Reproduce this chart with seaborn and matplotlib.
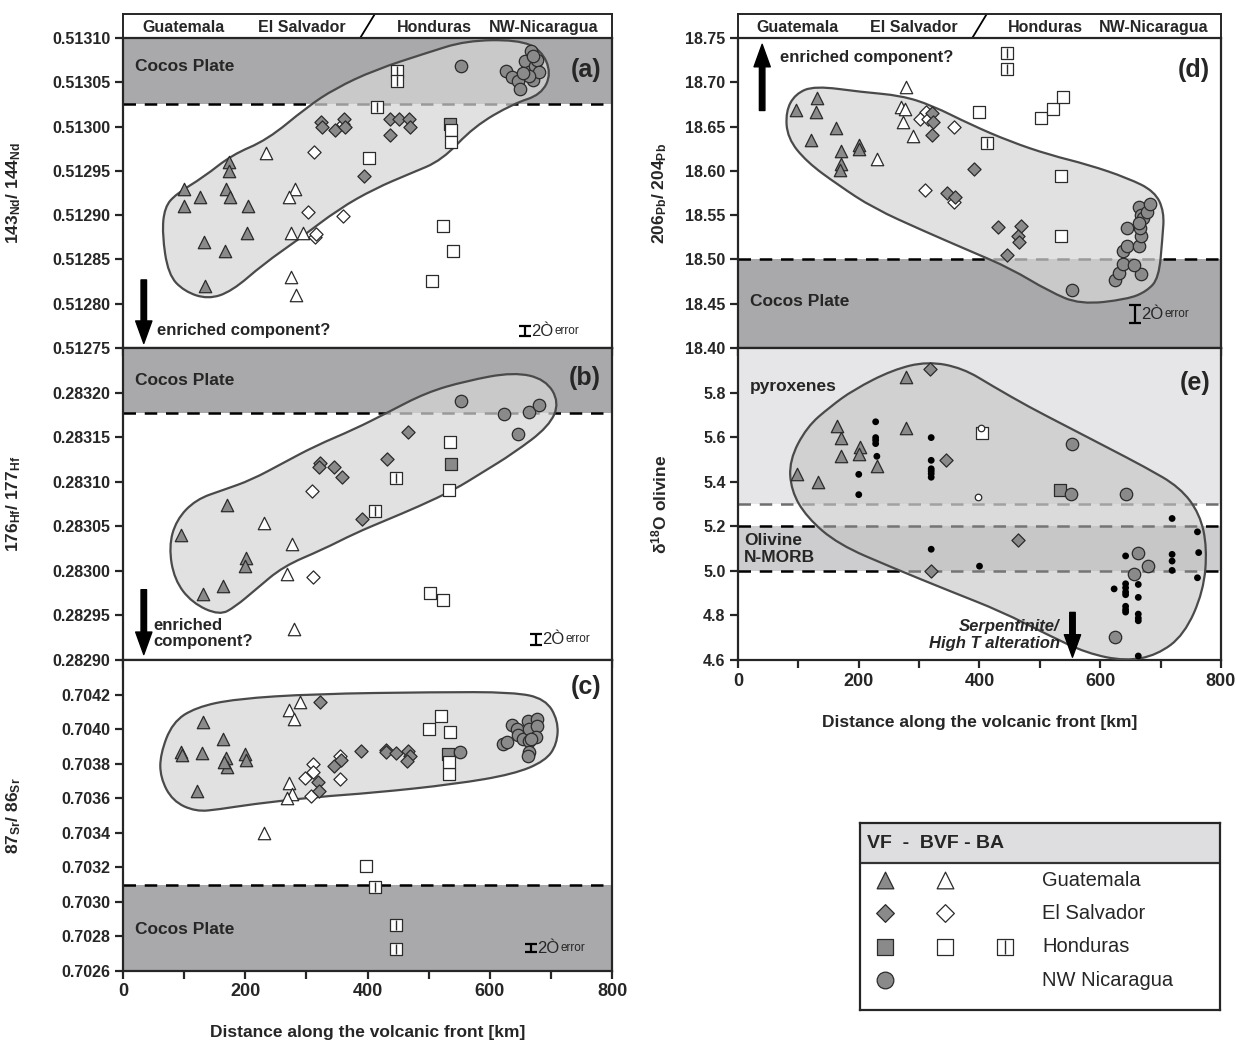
"""Isotope ratios along the Central American volcanic front (panels a-e) with shared legend."""
import numpy as np
import pandas as pd
import matplotlib
matplotlib.use("Agg")
import matplotlib.pyplot as plt
import seaborn as sns
from matplotlib.path import Path
from matplotlib.patches import PathPatch
from matplotlib.ticker import MultipleLocator, FixedLocator, FormatStrFormatter

sns.set_style("ticks")
plt.rcParams["font.family"] = ["Liberation Sans", "DejaVu Sans"]
plt.rcParams["font.weight"] = "bold"
plt.rcParams["mathtext.fontset"] = "custom"
plt.rcParams["mathtext.rm"] = "Liberation Sans:bold"
plt.rcParams["mathtext.bf"] = "Liberation Sans:bold"
plt.rcParams["mathtext.default"] = "bf"

# ---------------- data ----------------
regions = ["Guatemala", "El Salvador", "Honduras", "NW-Nicaragua"]
region_x = [99, 292, 509, 688]
region_slash_x = [388, 412]

# (a) 143Nd/144Nd
nd_x = [100, 100, 126, 132, 134, 167, 173, 173, 168, 175, 204, 203,
        234, 282, 272, 275, 294, 275, 283,
        312, 303, 314, 316, 360, 360,
        324, 326, 347, 361, 363, 395, 436, 436, 451, 468, 470,
        535,
        402, 536, 536, 524, 540, 505,
        449, 449, 415,
        553, 626, 636, 646, 649, 658, 665, 668, 671, 674, 677, 681, 665, 655, 671]
nd_y = [0.51293, 0.51291, 0.51292, 0.51287, 0.51282, 0.51286, 0.51296, 0.51295, 0.51293, 0.51292, 0.51291, 0.51288,
        0.51297, 0.51293, 0.51292, 0.51288, 0.51288, 0.51283, 0.51281,
        0.512971, 0.512904, 0.512875, 0.512879, 0.512899, 0.513003,
        0.513005, 0.51300, 0.512996, 0.513009, 0.512999, 0.512944, 0.513009, 0.51299, 0.513008, 0.513009, 0.512999,
        0.513003,
        0.512965, 0.512996, 0.512983, 0.512888, 0.512859, 0.512826,
        0.513063, 0.513051, 0.513022,
        0.513068, 0.513063, 0.513056, 0.513051, 0.513042, 0.513074, 0.513062, 0.513085, 0.513053, 0.513068,
        0.513075, 0.513062, 0.513057, 0.51306, 0.51308]
nd_grp = ["GV"] * 12 + ["GB"] * 7 + ["SB"] * 6 + ["SV"] * 11 + ["HV"] + ["HB"] * 6 + ["HA"] * 3 + ["NV"] * 15
nd_hull_x = [139, 100, 74, 64, 68, 87, 132, 178, 236, 301, 347, 412, 496, 561, 645, 684, 701, 684,
             639, 574, 522, 470, 412, 353, 288, 230, 178]
nd_hull_y = [0.512805, 0.512814, 0.512833, 0.512879, 0.512909, 0.512924, 0.512943, 0.512968, 0.512985,
             0.513022, 0.513043, 0.513064, 0.513083, 0.513097, 0.513098, 0.513087, 0.513060, 0.513036,
             0.513026, 0.513000, 0.512962, 0.512947, 0.512930, 0.512907, 0.512873, 0.512845, 0.512814]
nd_cocos = (0.513025, 0.51310)

# (b) 176Hf/177Hf
hf_x = [95, 131, 164, 170, 201, 199,
        230, 277, 268, 279,
        309, 311,
        322, 321, 345, 358, 391, 432, 466,
        447, 413,
        535, 534, 503, 523,
        537,
        553, 624, 647, 665, 680]
hf_y = [0.28304, 0.282974, 0.282983, 0.283074, 0.283014, 0.283006,
        0.283054, 0.28303, 0.282997, 0.282935,
        0.28309, 0.282993,
        0.283121, 0.283116, 0.283116, 0.283105, 0.283058, 0.283126, 0.283156,
        0.283104, 0.283067,
        0.283144, 0.283091, 0.282975, 0.282967,
        0.28312,
        0.283191, 0.283176, 0.283154, 0.283178, 0.283186]
hf_grp = ["GV"] * 6 + ["GB"] * 4 + ["SB"] * 2 + ["SV"] * 7 + ["HA"] * 2 + ["HB"] * 4 + ["HV"] + ["NV"] * 5
hf_hull_x = [158, 113, 84, 75, 87, 119, 165, 210, 262, 314, 379, 431, 496, 561, 639, 691, 714, 697,
             639, 587, 542, 483, 431, 379, 327, 262, 217, 184]
hf_hull_y = [0.282950, 0.282964, 0.282990, 0.283027, 0.283057, 0.283080, 0.283091, 0.283102, 0.283121,
             0.283140, 0.283159, 0.283177, 0.283200, 0.283213, 0.283223, 0.283215, 0.283189, 0.283162,
             0.283132, 0.283110, 0.283091, 0.283072, 0.283057, 0.283042, 0.283024, 0.283005, 0.282979,
             0.282960]
hf_cocos = (0.283177, 0.28325)

# (c) 87Sr/86Sr
sr_x = [95, 96, 131, 129, 121, 163, 168, 170, 165, 199, 202,
        272, 279, 290, 230, 272, 277, 268,
        311, 311, 297, 308, 355, 355,
        322, 319, 321, 345, 357, 390, 430, 431, 446, 466, 470, 464,
        532,
        501, 521, 535, 533, 534, 397,
        412, 446, 446,
        551, 621, 629, 636, 644, 646, 654, 663, 664, 665, 664, 663, 678, 678, 675, 668]
sr_y = [0.70387, 0.70385, 0.70404, 0.70386, 0.70364, 0.70394, 0.70383, 0.70378, 0.70381, 0.703855, 0.70382,
        0.70411, 0.70406, 0.704155, 0.703396, 0.70369, 0.703627, 0.7036,
        0.703797, 0.703754, 0.703716, 0.703613, 0.703846, 0.70371,
        0.704155, 0.703691, 0.703642, 0.703787, 0.70382, 0.703871, 0.703878, 0.703869, 0.703863, 0.703875,
        0.703846, 0.703813,
        0.703855,
        0.704002, 0.704078, 0.703981, 0.703743, 0.703807, 0.703206,
        0.703086, 0.702867, 0.702726,
        0.703869, 0.703913, 0.703923, 0.704026, 0.704, 0.703968, 0.703942, 0.704049, 0.704, 0.703929,
        0.703865, 0.703846, 0.704059, 0.70402, 0.703956, 0.703942]
sr_grp = ["GV"] * 11 + ["GB"] * 7 + ["SB"] * 6 + ["SV"] * 12 + ["HV"] + ["HB"] * 6 + ["HA"] * 3 + ["NV"] * 16
sr_hull_x = [119, 81, 61, 61, 81, 119, 184, 314, 509, 639, 691, 712, 710, 691, 639, 542, 412, 314, 210, 158]
sr_hull_y = [0.703522, 0.703584, 0.703720, 0.703855, 0.704039, 0.704126, 0.704175, 0.704204, 0.704214,
             0.704214, 0.704175, 0.704049, 0.703913, 0.703816, 0.703739, 0.703681, 0.703632, 0.703607,
             0.703565, 0.703536]
sr_cocos = (0.7026, 0.7031)

# (d) 206Pb/204Pb
pb_x = [96, 131, 129, 121, 163, 171, 171, 169, 200, 200,
        279, 270, 276, 273, 290, 231,
        312, 301, 315, 357, 310, 357,
        321, 323, 321, 391, 346, 359, 431, 469, 464, 465, 446,
        446, 446, 412,
        399, 502, 522, 538, 535, 535,
        554, 625, 631, 638, 637, 645, 645, 664, 667, 666, 664, 667, 670, 677, 682, 667, 656, 664]
pb_y = [18.669, 18.682, 18.666, 18.635, 18.648, 18.622, 18.608, 18.601, 18.629, 18.625,
        18.695, 18.672, 18.670, 18.655, 18.639, 18.613,
        18.667, 18.658, 18.658, 18.650, 18.578, 18.565,
        18.665, 18.655, 18.640, 18.602, 18.575, 18.570, 18.537, 18.538, 18.527, 18.520, 18.505,
        18.733, 18.715, 18.632,
        18.667, 18.660, 18.670, 18.683, 18.594, 18.527,
        18.466, 18.477, 18.485, 18.495, 18.509, 18.515, 18.535, 18.515, 18.526, 18.535, 18.559, 18.550,
        18.547, 18.554, 18.563, 18.483, 18.494, 18.541]
pb_grp = ["GV"] * 10 + ["GB"] * 6 + ["SB"] * 6 + ["SV"] * 11 + ["HA"] * 3 + ["HB"] * 6 + ["NV"] * 18
pb_hull_x = [95, 127, 205, 270, 321, 386, 451, 516, 580, 645, 690, 706, 703, 697, 677, 645, 567, 515,
             451, 386, 308, 224, 166, 114, 82, 79]
pb_hull_y = [18.687, 18.696, 18.689, 18.685, 18.674, 18.652, 18.633, 18.618, 18.607, 18.592, 18.577,
             18.554, 18.524, 18.479, 18.464, 18.455, 18.449, 18.464, 18.490, 18.509, 18.532, 18.558,
             18.584, 18.610, 18.637, 18.667]
pb_cocos = (18.40, 18.50)

# (e) d18O olivine
ox_x = [98, 132, 164, 171, 171, 202, 200, 230, 278, 278,
        318, 345, 464, 320,
        404,
        533,
        554, 551, 642, 663, 656, 679, 624,
        228, 228, 228, 228, 230, 200, 200, 320, 320, 320, 320, 320, 320, 320, 400,
        642, 623, 642, 642, 642, 642, 642, 642, 642, 663, 663, 663, 663, 663, 663,
        719, 719, 719, 719, 761, 763, 761,
        402, 397]
ox_y = [5.436, 5.398, 5.649, 5.594, 5.514, 5.556, 5.526, 5.469, 5.869, 5.639,
        5.905, 5.499, 5.139, 4.999,
        5.619,
        5.365,
        5.571, 5.345, 5.345, 5.082, 4.988, 5.021, 4.705,
        5.669, 5.598, 5.586, 5.571, 5.514, 5.433, 5.342, 5.598, 5.496, 5.458, 5.448, 5.436, 5.420, 5.097, 5.021,
        5.067, 4.919, 4.942, 4.924, 4.905, 4.893, 4.841, 4.826, 4.815, 4.939, 4.881, 4.806, 4.788, 4.776, 4.618,
        5.235, 5.074, 5.044, 5.002, 5.175, 5.082, 4.969,
        5.643, 5.330]
ox_grp = ["GV"] * 10 + ["SV"] * 4 + ["HB"] + ["HV"] + ["NV"] * 7 + ["DOT"] * 37 + ["SM"] * 2
ox_hull_x = [191, 256, 314, 372, 423, 481, 546, 610, 674, 732, 765, 777, 771, 739, 694, 642, 578, 513,
             436, 352, 256, 166, 114, 88, 85, 114, 153]
ox_hull_y = [5.812, 5.902, 5.940, 5.910, 5.827, 5.737, 5.646, 5.556, 5.466, 5.375, 5.255, 5.104, 4.908,
             4.713, 4.622, 4.595, 4.630, 4.713, 4.818, 4.908, 5.014, 5.119, 5.240, 5.360, 5.496, 5.646,
             5.737]
pyroxene_band = (5.3, 6.0)
morb_band = (5.0, 5.2)

legend_rows = ["Guatemala", "El Salvador", "Honduras", "NW Nicaragua"]
legend_codes = [["GV", "GB"], ["SV", "SB"], ["HV", "HB", "HA"], ["NV"]]

# ---------------- styles ----------------
GRAY = "#8a8a8a"
EDGE = "#2b2b2b"
STYLE = {
    "GV": dict(marker="^", fc=GRAY, s=80),
    "GB": dict(marker="^", fc="white", s=80),
    "SV": dict(marker="D", fc=GRAY, s=45),
    "SB": dict(marker="D", fc="white", s=45),
    "HV": dict(marker="s", fc=GRAY, s=70),
    "HB": dict(marker="s", fc="white", s=70),
    "HA": dict(marker="s", fc="white", s=70),
    "NV": dict(marker="o", fc=GRAY, s=80),
    "DOT": dict(marker="o", fc="black", s=24),
    "SM": dict(marker="o", fc="white", s=22),
}
ORDER = ["GV", "GB", "SB", "SV", "HV", "HB", "HA", "NV", "DOT", "SM"]
BAND = "#a9a9ab"
HULL = "#d6d6d6"

W, H = 1236, 1040
fig = plt.figure(figsize=(W / 100, H / 100), dpi=100)


def add_px_axes(left, top, right, bottom):
    return fig.add_axes([left / W, 1 - bottom / H, (right - left) / W, (bottom - top) / H])


def draw_points(ax, xs, ys, grp, scale=1.0):
    df = pd.DataFrame({"x": xs, "y": ys, "g": grp})
    for code in ORDER:
        sub = df[df["g"] == code]
        if sub.empty:
            continue
        st = STYLE[code]
        ec = "none" if code == "DOT" else EDGE
        sns.scatterplot(data=sub, x="x", y="y", marker=st["marker"], s=st["s"] * scale,
                        color=st["fc"], edgecolor=ec, linewidth=0.9, ax=ax, zorder=4,
                        legend=False, clip_on=False)
        if code == "HA":
            sns.scatterplot(data=sub, x="x", y="y", marker="|", s=st["s"] * scale * 0.75,
                            color=EDGE, linewidth=1.0, ax=ax, zorder=5, legend=False)


def draw_hull(ax, hx, hy, fc=HULL, alpha=0.72):
    pts = np.column_stack([hx, hy])
    mids = (pts + np.roll(pts, -1, axis=0)) / 2
    verts = [mids[-1]]
    codes = [Path.MOVETO]
    for p, m in zip(pts, mids):
        verts += [p, m]
        codes += [Path.CURVE3, Path.CURVE3]
    path = Path(verts, codes)
    ax.add_patch(PathPatch(path, fc=fc, ec="none", alpha=alpha, zorder=2))
    ax.add_patch(PathPatch(path, fc="none", ec="#4a4a4a", lw=1.6, zorder=3))


def dashed(ax, y, color="black"):
    ax.axhline(y, color=color, lw=1.8, ls=(0, (5, 3.5)), zorder=1)


def arrow(ax, x, y0, y1):
    ax.annotate("", xy=(x, y1), xytext=(x, y0),
                arrowprops=dict(arrowstyle="simple,head_width=0.65,head_length=0.9,tail_width=0.22",
                                fc="black", ec="black", mutation_scale=18), zorder=6)


def err_bar(ax, x, y, yerr):
    ax.errorbar([x], [y], yerr=[yerr], color="black", lw=1.6, capsize=4, capthick=1.6, zorder=6)
    ax.text(x + 9, y, "2Ò", fontsize=12, fontweight="normal", va="center", ha="left")
    ax.text(x + 48, y, "error", fontsize=8.5, fontweight="normal", va="center", ha="left")


def style_axes(ax, ylim, yticks, fmt, ylabel, show_x, label_x):
    ax.set_xlim(0, 800)
    ax.set_ylim(*ylim)
    ax.xaxis.set_major_locator(MultipleLocator(100))
    ax.yaxis.set_major_locator(FixedLocator(yticks))
    ax.yaxis.set_major_formatter(FormatStrFormatter(fmt))
    ax.tick_params(axis="both", direction="out", length=6, width=1.6, labelsize=11.5, pad=3)
    if show_x:
        labels = [f"{int(v)}" if v % 200 == 0 else "" for v in ax.get_xticks()]
        ax.set_xticks(ax.get_xticks())
        ax.set_xticklabels(labels, fontsize=13, fontweight="bold")
        ax.set_xlim(0, 800)
        ax.set_xlabel("Distance along the volcanic front [km]", fontsize=12.5, fontweight="bold", labelpad=18)
    else:
        ax.set_xticklabels([])
        ax.set_xlabel("")
    ax.set_ylabel(ylabel, fontsize=12.5, fontweight="bold")
    ax.yaxis.set_label_coords(label_x, 0.5)
    for lab in ax.get_yticklabels():
        lab.set_fontweight("bold")
    for sp in ax.spines.values():
        sp.set_linewidth(1.6)


def strip(left, right):
    ax = add_px_axes(left, 14, right, 38)
    ax.set_xlim(0, 800)
    ax.set_ylim(0, 1)
    ax.set_xticks([])
    ax.set_yticks([])
    for name, x in zip(regions, region_x):
        ax.text(x, 0.45, name, ha="center", va="center", fontsize=11.5, fontweight="bold")
    ax.plot(region_slash_x, [0, 1], color="black", lw=1.3)
    for sp in ax.spines.values():
        sp.set_linewidth(1.4)


LX0, LX1 = 123, 612
RX0, RX1 = 738, 1221
LLAB, RLAB = -0.205, -0.142

# ---------- (a) ----------
strip(LX0, LX1)
ax = add_px_axes(LX0, 38, LX1, 348)
ax.axhspan(*nd_cocos, color=BAND, zorder=0, lw=0)
dashed(ax, nd_cocos[0])
draw_hull(ax, nd_hull_x, nd_hull_y)
draw_points(ax, nd_x, nd_y, nd_grp)
ax.text(20, 0.513068, "Cocos Plate", fontsize=12.5, fontweight="bold", va="center")
ax.text(782, 0.513064, "(a)", fontsize=18, fontweight="bold", va="center", ha="right")
arrow(ax, 34, 0.51283, 0.512752)
ax.text(55, 0.51277, "enriched component?", fontsize=12, fontweight="bold", va="center")
err_bar(ax, 658, 0.512769, 0.0000055)
style_axes(ax, (0.51275, 0.51310), np.arange(0.51275, 0.513101, 0.00005), "%.5f",
           "143$_{Nd}$/ 144$_{Nd}$", False, LLAB)

# ---------- (b) ----------
ax = add_px_axes(LX0, 348, LX1, 660)
ax.axhspan(*hf_cocos, color=BAND, zorder=0, lw=0)
dashed(ax, hf_cocos[0])
draw_hull(ax, hf_hull_x, hf_hull_y)
draw_points(ax, hf_x, hf_y, hf_grp)
ax.text(20, 0.283213, "Cocos Plate", fontsize=12.5, fontweight="bold", va="center")
ax.text(782, 0.283216, "(b)", fontsize=18, fontweight="bold", va="center", ha="right")
arrow(ax, 34, 0.282982, 0.282903)
ax.text(50, 0.28293, "enriched\ncomponent?", fontsize=12, fontweight="bold", va="center",
        linespacing=1.1)
err_bar(ax, 676, 0.282923, 0.0000065)
style_axes(ax, (0.28290, 0.28325), np.arange(0.28290, 0.283201, 0.00005), "%.5f",
           "176$_{Hf}$/ 177$_{Hf}$", False, LLAB)

# ---------- (c) ----------
ax = add_px_axes(LX0, 660, LX1, 971)
ax.axhspan(*sr_cocos, color=BAND, zorder=0, lw=0)
dashed(ax, sr_cocos[1])
draw_hull(ax, sr_hull_x, sr_hull_y)
draw_points(ax, sr_x, sr_y, sr_grp)
ax.text(20, 0.702838, "Cocos Plate", fontsize=12.5, fontweight="bold", va="center")
ax.text(782, 0.704243, "(c)", fontsize=18, fontweight="bold", va="center", ha="right")
err_bar(ax, 668, 0.702732, 0.000022)
style_axes(ax, (0.7026, 0.7044), np.arange(0.7026, 0.70421, 0.0002), "%.4f",
           "87$_{Sr}$/ 86$_{Sr}$", True, LLAB)

# ---------- (d) ----------
strip(RX0, RX1)
ax = add_px_axes(RX0, 38, RX1, 348)
ax.axhspan(*pb_cocos, color=BAND, zorder=0, lw=0)
dashed(ax, pb_cocos[1])
draw_hull(ax, pb_hull_x, pb_hull_y)
draw_points(ax, pb_x, pb_y, pb_grp)
ax.text(20, 18.452, "Cocos Plate", fontsize=12.5, fontweight="bold", va="center")
ax.text(782, 18.714, "(d)", fontsize=18, fontweight="bold", va="center", ha="right")
arrow(ax, 40, 18.665, 18.746)
ax.text(70, 18.728, "enriched component?", fontsize=12, fontweight="bold", va="center")
err_bar(ax, 658, 18.438, 0.0103)
style_axes(ax, (18.40, 18.75), np.arange(18.40, 18.751, 0.05), "%.2f",
           "206$_{Pb}$/ 204$_{Pb}$", False, RLAB)

# ---------- (e) ----------
ax = add_px_axes(RX0, 348, RX1, 660)
ax.axhspan(*pyroxene_band, color="#e6e6e8", zorder=0, lw=0)
ax.axhspan(*morb_band, color="#cdcdcf", zorder=0, lw=0)
dashed(ax, pyroxene_band[0], color="#6e6e6e")
dashed(ax, morb_band[1])
dashed(ax, morb_band[0])
draw_hull(ax, ox_hull_x, ox_hull_y, fc="#c4c4c4", alpha=0.6)
draw_points(ax, ox_x, ox_y, ox_grp)
ax.text(20, 5.827, "pyroxenes", fontsize=12.5, fontweight="bold", va="center")
ax.text(10, 5.097, "Olivine\nN-MORB", fontsize=12.5, fontweight="bold", va="center", linespacing=1.15)
ax.text(782, 5.842, "(e)", fontsize=18, fontweight="bold", va="center", ha="right")
arrow(ax, 554, 4.826, 4.6)
ax.text(533, 4.713, "Serpentinite/\nHigh T alteration", fontsize=12, fontweight="bold",
        style="italic", va="center", ha="right", linespacing=1.2)
style_axes(ax, (4.6, 6.0), np.arange(4.6, 5.81, 0.2), "%.1f", "δ$^{18}$O olivine", True, RLAB)

# ---------- legend box ----------
lg = add_px_axes(860, 823, 1220, 1010)
lg.set_xlim(-0.42, 5.58)
lg.set_ylim(3.9, -1.71)
lg.set_xticks([])
lg.set_yticks([])
lg.axhspan(-1.71, -0.51, color="#dedee0", zorder=0, lw=0)
lg.axhline(-0.51, color="#333333", lw=1.6)
lg.text(-0.3, -1.11, "VF  -  BVF - BA", fontsize=14, fontweight="bold", va="center")
for j, (name, codes) in enumerate(zip(legend_rows, legend_codes)):
    draw_points(lg, list(range(len(codes))), [j] * len(codes), codes, scale=1.8)
    lg.text(2.62, j, name, fontsize=14.5, fontweight="normal", va="center")
for sp in lg.spines.values():
    sp.set_linewidth(1.6)
lg.set_xlabel("")
lg.set_ylabel("")

fig.savefig("out.png", dpi=100)
